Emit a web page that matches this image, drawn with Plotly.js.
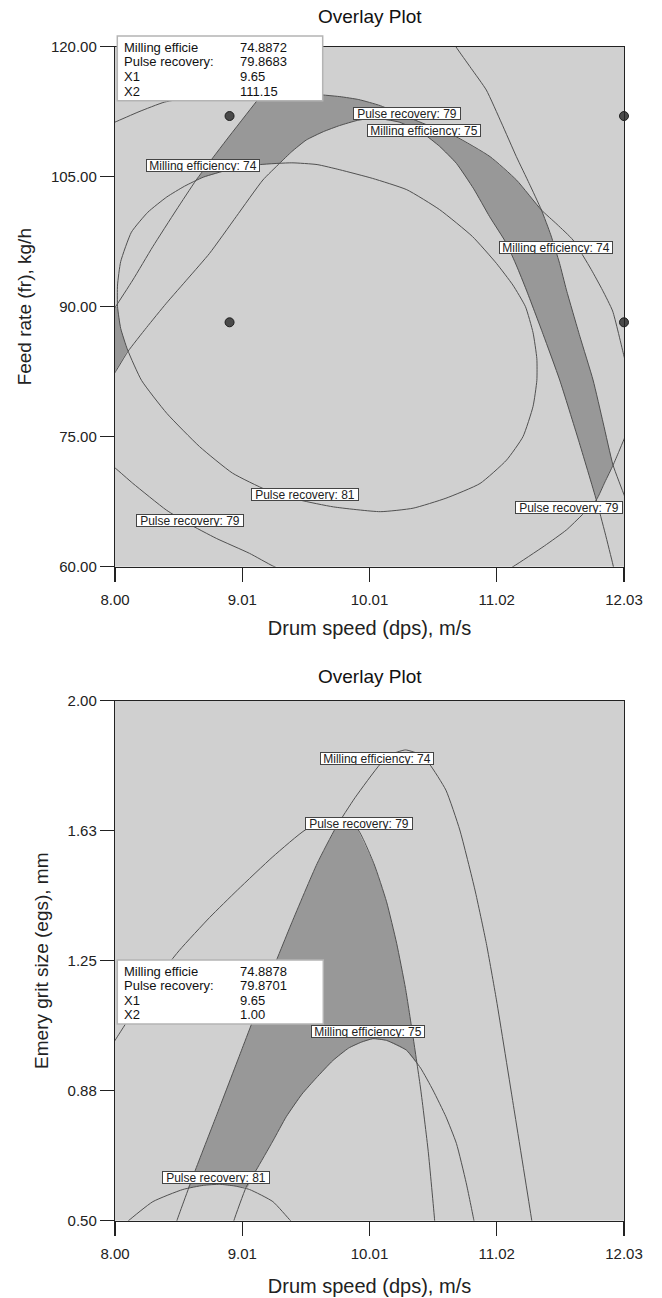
<!DOCTYPE html>
<html><head><meta charset="utf-8">
<script src="https://cdn.plot.ly/plotly-3.0.1.min.js"></script>
<style>html,body{margin:0;padding:0;background:#fff}#chart{width:662px;height:1298px}</style>
</head><body><div id="chart"></div>
<script>
// ---------- axes / ticks ----------
const xTickVals = [8, 9.0075, 10.015, 11.0225, 12.03];
const xTickText = ['8.00', '9.01', '10.01', '11.02', '12.03'];
const topYTickVals = [60, 75, 90, 105, 120];
const topYTickText = ['60.00', '75.00', '90.00', '105.00', '120.00'];
const botYTickVals = [0.5, 0.875, 1.25, 1.625, 2.0];
const botYTickText = ['0.50', '0.88', '1.25', '1.63', '2.00'];

// ---------- top plot: Drum speed vs Feed rate ----------
const topPR81X = [9.40, 9.60, 9.78, 10.04, 10.31, 10.57, 10.83, 11.02, 11.15, 11.25, 11.31, 11.34, 11.34, 11.31, 11.23, 11.10, 10.89, 10.62, 10.36, 10.10, 9.73, 9.46, 9.20, 8.93, 8.67, 8.41, 8.21, 8.10, 8.045, 8.02, 8.02, 8.045, 8.13, 8.26, 8.41, 8.55, 8.70, 8.90, 9.15, 9.40];
const topPR81Y = [106.6, 106.4, 105.8, 104.8, 103.5, 101.2, 98.1, 95.0, 92.5, 90.0, 87.0, 84.0, 81.5, 78.5, 75.0, 72.3, 69.6, 67.9, 66.75, 66.35, 66.9, 67.7, 68.85, 70.8, 73.85, 77.7, 81.5, 85.0, 87.5, 90.0, 92.5, 95.2, 98.6, 100.9, 102.66, 103.9, 104.95, 105.8, 106.4, 106.6];

const topPR79aX = [7.9, 8.0, 8.19, 8.39, 8.6, 8.85, 9.1, 9.35, 9.55, 9.78, 9.93, 10.10, 10.31, 10.50, 10.70, 10.97, 11.18, 11.376, 11.50, 11.626, 11.77, 11.86, 11.94, 12.03, 12.07, 12.09, 12.08, 12.03, 11.99, 11.943, 11.88, 11.811, 11.70, 11.574, 11.40, 11.151, 11.0];
const topPR79aY = [110.7, 111.3, 112.5, 113.6, 114.15, 114.55, 114.75, 114.75, 114.55, 114.24, 113.9, 113.2, 111.92, 110.8, 109.62, 107.31, 104.6, 101.16, 99.5, 97.7, 94.3, 91.9, 89.5, 84.3, 82.0, 79.0, 76.5, 74.7, 73.3, 71.7, 69.8, 67.7, 66.0, 64.24, 62.4, 60.0, 58.8];
const topPR79bX = [7.9, 8.004, 8.141, 8.406, 8.577, 8.802, 9.065, 9.25, 9.4];
const topPR79bY = [72.5, 71.35, 69.62, 66.54, 65.0, 63.27, 61.54, 60.08, 59.2];

const topME74aX = [7.95, 8.004, 8.141, 8.299, 8.485, 8.643, 8.88, 9.118, 9.30, 9.45, 9.5];
const topME74aY = [88.9, 90.0, 93.08, 96.92, 101.15, 104.62, 109.2, 113.65, 117.0, 120.0, 121.0];
const topME74bX = [10.62, 10.699, 10.82, 10.94, 11.06, 11.178, 11.28, 11.376, 11.45, 11.52, 11.574, 11.68, 11.785, 11.865, 11.943, 12.036, 12.10];
const topME74bY = [122.0, 120.0, 117.5, 115.0, 111.2, 107.31, 104.2, 101.16, 98.3, 95.0, 91.94, 86.6, 81.54, 76.6, 71.73, 68.08, 65.5];

const topME75X = [7.95, 8.004, 8.101, 8.25, 8.406, 8.58, 8.749, 8.96, 9.171, 9.303, 9.40, 9.514, 9.65, 9.778, 9.92, 10.05, 10.25, 10.438, 10.57, 10.703, 10.84, 10.966, 11.099, 11.18, 11.257, 11.39, 11.521, 11.67, 11.811, 11.88, 11.943, 11.96];
const topME75Y = [81.4, 82.5, 84.81, 87.6, 90.39, 93.3, 96.16, 100.4, 104.62, 106.54, 107.9, 109.23, 110.2, 110.9, 111.5, 111.75, 111.3, 110.0, 108.5, 106.54, 103.6, 100.39, 97.31, 94.7, 91.94, 86.8, 81.54, 74.6, 67.7, 63.9, 60.2, 59.0];

const topShadeMainX = [8.645, 8.88, 9.118, 9.17, 9.35, 9.55, 9.78, 9.93, 10.10, 10.31, 10.50, 10.70, 10.97, 11.18, 11.376, 11.45, 11.52, 11.574, 11.68, 11.785, 11.865, 11.943, 11.88, 11.811, 11.67, 11.521, 11.39, 11.257, 11.18, 11.099, 10.966, 10.84, 10.703, 10.57, 10.438, 10.25, 10.05, 9.92, 9.778, 9.65, 9.514, 9.40, 9.30, 9.15, 8.90, 8.70, 8.645];
const topShadeMainY = [104.62, 109.2, 113.65, 114.72, 114.75, 114.55, 114.24, 113.9, 113.2, 111.92, 110.8, 109.62, 107.31, 104.6, 101.16, 98.3, 95.0, 91.94, 86.6, 81.54, 76.6, 71.73, 69.8, 67.7, 74.6, 81.54, 86.8, 91.94, 94.7, 97.31, 100.39, 103.6, 106.54, 108.5, 110.0, 111.3, 111.75, 111.5, 110.9, 110.2, 109.23, 107.9, 106.52, 106.4, 105.8, 104.95, 104.62];
const topShadeSmallX = [8.0, 8.10, 8.045, 8.02, 8.0];
const topShadeSmallY = [82.5, 84.95, 87.5, 90.0, 90.0];

const designX = [8.907, 8.907, 12.03, 12.03];
const designY = [112.0, 88.2, 112.0, 88.2];

const topLabelText = ['Pulse recovery: 79', 'Milling efficiency: 75', 'Milling efficiency: 74', 'Milling efficiency: 74', 'Pulse recovery: 81', 'Pulse recovery: 79', 'Pulse recovery: 79'];
const topLabelX = [10.309, 10.449, 11.488, 8.699, 9.507, 8.596, 11.596];
const topLabelY = [112.27, 110.30, 96.87, 106.32, 68.31, 65.36, 66.87];

// ---------- bottom plot: Drum speed vs Emery grit size ----------
const botME74X = [8.45, 8.49, 8.63, 8.80, 9.00, 9.20, 9.40, 9.60, 9.75, 9.90, 10.10, 10.20, 10.30, 10.40, 10.49, 10.62, 10.73, 10.85, 10.94, 11.02, 11.16, 11.30, 11.32];
const botME74Y = [0.45, 0.50, 0.64, 0.80, 0.99, 1.18, 1.36, 1.53, 1.635, 1.72, 1.817, 1.847, 1.858, 1.847, 1.817, 1.742, 1.627, 1.454, 1.30, 1.137, 0.82, 0.50, 0.45];
const botME75X = [8.92, 8.941, 9.04, 9.118, 9.25, 9.356, 9.48, 9.594, 9.725, 9.85, 9.95, 10.042, 10.15, 10.307, 10.42, 10.517, 10.62, 10.703, 10.78, 10.842, 10.85];
const botME75Y = [0.47, 0.50, 0.598, 0.646, 0.73, 0.80, 0.865, 0.912, 0.962, 0.998, 1.015, 1.025, 1.02, 0.992, 0.94, 0.877, 0.80, 0.723, 0.61, 0.50, 0.48];
const botPR79X = [7.9, 8.0, 8.25, 8.51, 8.75, 8.97, 9.25, 9.51, 9.70, 9.82, 9.92, 10.05, 10.15, 10.23, 10.30, 10.36, 10.42, 10.48, 10.531, 10.54];
const botPR79Y = [0.96, 1.02, 1.16, 1.28, 1.375, 1.454, 1.55, 1.628, 1.652, 1.645, 1.63, 1.53, 1.42, 1.30, 1.17, 1.03, 0.88, 0.70, 0.50, 0.45];
const botPR81X = [8.05, 8.107, 8.30, 8.537, 8.70, 8.828, 8.95, 9.065, 9.25, 9.39, 9.42];
const botPR81Y = [0.48, 0.50, 0.555, 0.590, 0.602, 0.605, 0.600, 0.590, 0.555, 0.50, 0.49];
const botShadeX = [8.577, 8.63, 8.80, 9.00, 9.20, 9.40, 9.60, 9.75, 9.78, 9.85, 9.92, 10.05, 10.15, 10.23, 10.30, 10.36, 10.39, 10.307, 10.15, 10.042, 9.95, 9.85, 9.725, 9.594, 9.48, 9.356, 9.25, 9.118, 9.05, 8.95, 8.828, 8.70, 8.577];
const botShadeY = [0.594, 0.64, 0.80, 0.99, 1.18, 1.36, 1.53, 1.635, 1.646, 1.64, 1.63, 1.53, 1.42, 1.30, 1.17, 1.03, 0.953, 0.992, 1.02, 1.025, 1.015, 0.998, 0.962, 0.912, 0.865, 0.80, 0.73, 0.646, 0.596, 0.600, 0.605, 0.602, 0.594];

const botLabelText = ['Milling efficiency: 74', 'Pulse recovery: 79', 'Milling efficiency: 75', 'Pulse recovery: 81'];
const botLabelX = [10.075, 9.934, 10.006, 8.798];
const botLabelY = [1.834, 1.647, 1.047, 0.625];

// ---------- readout boxes ----------
const readoutNames = ['Milling efficie', 'Pulse recovery:', 'X1', 'X2'];
const topReadoutValues = ['74.8872', '79.8683', '9.65', '111.15'];
const botReadoutValues = ['74.8878', '79.8701', '9.65', '1.00'];

// ---------- styling ----------
const FONT = 'Liberation Sans, Arial, sans-serif';
const BG = '#d0d0d0', DARK = '#989898', LINE = '#505050', AX = '#222222';
const W = 662, H = 1298, ML = 115, MR = 38, PW = W - ML - MR;
const px2x = p => (p - ML) / PW;
const px2y = p => 1 - p / H;

function curve(x, y, xa, ya) {
  return {type: 'scatter', mode: 'lines', x: x, y: y, xaxis: xa, yaxis: ya,
    line: {color: LINE, width: 1, shape: 'spline', smoothing: 0.5},
    hoverinfo: 'skip', showlegend: false};
}
function shade(x, y, xa, ya) {
  return {type: 'scatter', mode: 'lines', x: x, y: y, xaxis: xa, yaxis: ya,
    fill: 'toself', fillcolor: DARK, line: {width: 0, color: DARK},
    hoverinfo: 'skip', showlegend: false};
}

const traces = [
  shade(topShadeMainX, topShadeMainY, 'x', 'y'),
  shade(topShadeSmallX, topShadeSmallY, 'x', 'y'),
  curve(topPR81X, topPR81Y, 'x', 'y'),
  curve(topPR79aX, topPR79aY, 'x', 'y'),
  curve(topPR79bX, topPR79bY, 'x', 'y'),
  curve(topME74aX, topME74aY, 'x', 'y'),
  curve(topME74bX, topME74bY, 'x', 'y'),
  curve(topME75X, topME75Y, 'x', 'y'),
  {type: 'scatter', mode: 'markers', x: designX, y: designY, xaxis: 'x', yaxis: 'y',
   cliponaxis: false, marker: {size: 9, color: '#4a4a4a', line: {color: '#1e1e1e', width: 1}},
   hoverinfo: 'skip', showlegend: false},
  shade(botShadeX, botShadeY, 'x2', 'y2'),
  curve(botME74X, botME74Y, 'x2', 'y2'),
  curve(botME75X, botME75Y, 'x2', 'y2'),
  curve(botPR79X, botPR79Y, 'x2', 'y2'),
  curve(botPR81X, botPR81Y, 'x2', 'y2')
];

const annotations = [];
const shapes = [];
function contourLabels(texts, xs, ys, xr, yr) {
  texts.forEach((t, i) => annotations.push({
    text: t, x: xs[i], y: ys[i], xref: xr, yref: yr, showarrow: false,
    xanchor: 'center', yanchor: 'middle',
    width: t.indexOf('Milling') === 0 ? 112 : 106, height: 11,
    bgcolor: '#ffffff', bordercolor: '#444444', borderwidth: 1, borderpad: 0,
    font: {family: FONT, size: 12, color: '#222'}
  }));
}
contourLabels(topLabelText, topLabelX, topLabelY, 'x', 'y');
contourLabels(botLabelText, botLabelX, botLabelY, 'x2', 'y2');

function readout(values, box, lineYs) {
  shapes.push({type: 'rect', xref: 'paper', yref: 'paper',
    x0: px2x(box[0]), x1: px2x(box[1]), y0: px2y(box[2]), y1: px2y(box[3]),
    fillcolor: '#ffffff', line: {color: '#b4b4b4', width: 1.5}, layer: 'above'});
  readoutNames.forEach((n, i) => {
    annotations.push({text: n, x: px2x(121.5), y: px2y(lineYs[i]), xref: 'paper', yref: 'paper',
      xanchor: 'left', yanchor: 'middle', showarrow: false,
      font: {family: FONT, size: 13, color: '#111'}});
    annotations.push({text: values[i], x: px2x(238), y: px2y(lineYs[i]), xref: 'paper', yref: 'paper',
      xanchor: 'left', yanchor: 'middle', showarrow: false,
      font: {family: FONT, size: 13, color: '#111'}});
  });
}
readout(topReadoutValues, [117.3, 322.7, 36, 100.7], [47.3, 61.9, 76.5, 91.1]);
readout(botReadoutValues, [117.3, 323.3, 960, 1024], [971.1, 985.7, 1000.3, 1014.9]);

annotations.push({text: 'Overlay Plot', x: px2x(369.9), y: px2y(16.5), xref: 'paper', yref: 'paper',
  showarrow: false, xanchor: 'center', yanchor: 'middle', font: {family: FONT, size: 19, color: '#111'}});
annotations.push({text: 'Overlay Plot', x: px2x(369.9), y: px2y(677), xref: 'paper', yref: 'paper',
  showarrow: false, xanchor: 'center', yanchor: 'middle', font: {family: FONT, size: 19, color: '#111'}});

function xAxis(anchor, standoff) {
  return {anchor: anchor, domain: [0, 1], range: [8, 12.03], tickmode: 'array',
    tickvals: xTickVals, ticktext: xTickText, showgrid: false, zeroline: false,
    showline: true, mirror: true, linecolor: AX, linewidth: 1.2,
    ticks: 'outside', ticklen: 14, tickcolor: AX, tickwidth: 1.2, ticklabelstandoff: 5,
    tickfont: {family: FONT, size: 15, color: '#222'},
    title: {text: 'Drum speed (dps), m/s', font: {family: FONT, size: 20, color: '#222'}, standoff: standoff}};
}
function yAxis(anchor, dom, rng, tv, tt, title) {
  return {anchor: anchor, domain: dom, range: rng, tickmode: 'array',
    tickvals: tv, ticktext: tt, showgrid: false, zeroline: false,
    showline: true, mirror: true, linecolor: AX, linewidth: 1.2,
    ticks: 'outside', ticklen: 14, tickcolor: AX, tickwidth: 1.2,
    tickfont: {family: FONT, size: 15, color: '#222'},
    title: {text: title, font: {family: FONT, size: 19, color: '#222'}, standoff: 14}};
}

const layout = {
  width: W, height: H, margin: {l: ML, r: MR, t: 0, b: 0},
  paper_bgcolor: '#ffffff', plot_bgcolor: BG, showlegend: false,
  font: {family: FONT},
  xaxis: xAxis('y', 14),
  yaxis: yAxis('x', [px2y(566.7), px2y(46.7)], [60, 120], topYTickVals, topYTickText, 'Feed rate (fr), kg/h'),
  xaxis2: xAxis('y2', 18),
  yaxis2: yAxis('x2', [px2y(1220.7), px2y(700.7)], [0.5, 2.0], botYTickVals, botYTickText, 'Emery grit size (egs), mm'),
  annotations: annotations, shapes: shapes
};

Plotly.newPlot('chart', traces, layout, {staticPlot: true, displayModeBar: false});
</script></body></html>
